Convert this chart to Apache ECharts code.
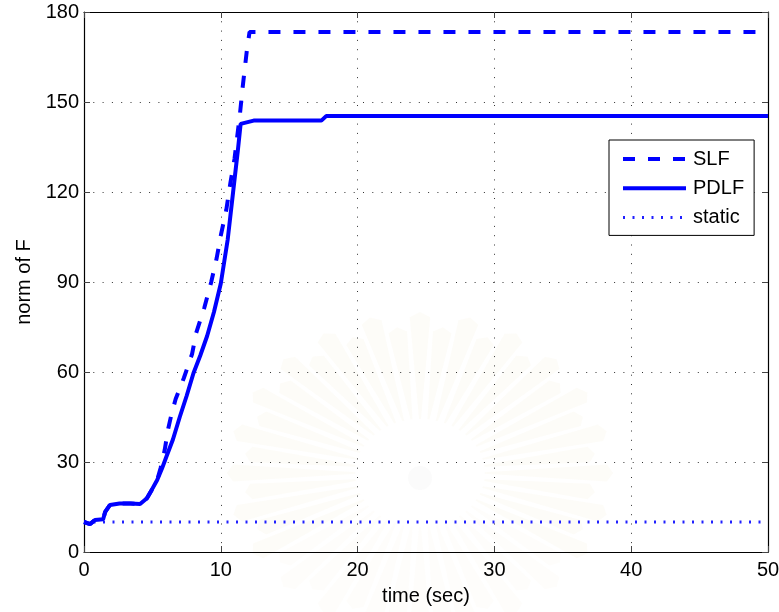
<!DOCTYPE html>
<html>
<head>
<meta charset="utf-8">
<script src="https://cdn.jsdelivr.net/npm/echarts@6/dist/echarts.min.js"></script>
<style>
  html, body { margin: 0; padding: 0; background: #fff; }
  #chart { width: 779px; height: 612px; }
</style>
</head>
<body>
<div id="chart"></div>
<script>
// Time samples (sec) and norm of the feedback gain for each design
const slfTime = [0, 0.45, 0.8, 1.4, 1.55, 1.9, 2.6, 3.4, 4.1, 4.6, 4.95, 5.35, 5.6, 5.9, 6.15, 6.4, 6.7, 7.0, 7.3, 7.9, 8.2, 8.8, 9.3, 9.7, 10.0, 10.4, 10.7, 11.0, 11.4, 11.6, 11.9, 12.1, 50];
const slfNorm = [10, 9.3, 10.7, 10.9, 13.4, 15.7, 16.2, 16.2, 16, 17.9, 20.7, 24, 28, 34, 41, 46, 51, 54.5, 58, 66, 73, 81.5, 90, 98, 105.5, 114, 123, 131, 146, 155, 167, 173.3, 173.3];

const pdlfTime = [0, 0.45, 0.8, 1.4, 1.55, 1.9, 2.6, 3.4, 4.1, 4.6, 4.95, 5.35, 5.7, 6.0, 6.5, 7.0, 7.5, 8.0, 8.5, 9.0, 9.5, 10.0, 10.5, 10.9, 11.25, 11.45, 12.4, 17.35, 17.7, 50];
const pdlfNorm = [10, 9.3, 10.7, 10.9, 13.4, 15.7, 16.2, 16.2, 16, 17.9, 20.7, 24, 27.8, 31.5, 37.5, 45, 52, 59.6, 65.5, 72, 80, 89.5, 104, 120, 134, 142.7, 143.8, 143.8, 145.3, 145.3];

const staticTime = [0, 50];
const staticNorm = [10, 10];

const seriesNames = ['SLF', 'PDLF', 'static'];
const xTicks = { min: 0, max: 50, interval: 10 };
const yTicks = { min: 0, max: 180, interval: 30 };

const FONT = '"Liberation Sans", Arial, Helvetica, sans-serif';
const BLUE = '#0000ff';

function pairs(t, v) { return t.map((x, i) => [x, v[i]]); }

// Faint sun-ray emblem sitting behind the plot
function emblem(cx, cy) {
  const els = [];
  const n = 48;
  for (let i = 0; i < n; i++) {
    const a = (i / n) * Math.PI * 2;
    const step = Math.PI * 2 / n;
    const r0 = 54;
    const r1 = (i % 2 === 0) ? 156 : 142;
    const sx = 1.2;
    const p = (r, ang) => [cx + sx * r * Math.cos(ang), cy + r * Math.sin(ang)];
    const pts = [
      p(r0, a - step * 0.12),
      p(r1, a - step * 0.42),
      p(r1 + 5, a),
      p(r1, a + step * 0.42),
      p(r0, a + step * 0.12)
    ];
    const lower = Math.sin(a) > 0.5 ? 0.6 : 1;
    els.push({
      type: 'polygon', silent: true, z: -10,
      shape: { points: pts },
      style: { fill: 'rgba(236,224,176,' + (0.09 * lower).toFixed(3) + ')' }
    });
  }
  els.push({
    type: 'circle', silent: true, z: -10,
    shape: { cx: cx, cy: cy + 5, r: 12 },
    style: { fill: 'rgba(200,200,200,0.07)' }
  });
  return els;
}

const chart = echarts.init(document.getElementById('chart'), null, { renderer: 'canvas' });

const gridLine = { show: true, lineStyle: { color: '#333', width: 1, type: [1, 8.3] } };
const boxLine = { show: true, onZero: false, lineStyle: { color: '#000', width: 1.2 } };
const tick = { show: true, inside: true, length: 6, lineStyle: { color: '#444', width: 1 } };

chart.setOption({
  animation: false,
  backgroundColor: '#fff',
  graphic: emblem(420, 473),
  grid: { left: 84, right: 11, top: 12, bottom: 60, containLabel: false, outerBoundsMode: 'none' },
  legend: {
    orient: 'vertical',
    left: 609, top: 140,
    data: seriesNames,
    backgroundColor: '#fff',
    borderColor: '#000', borderWidth: 1,
    padding: [9, 10, 8, 12],
    itemWidth: 63, itemHeight: 20, itemGap: 9.2,
    // line-only keys: the marker dot is made invisible
    itemStyle: { color: 'rgba(0,0,0,0)', borderWidth: 0, opacity: 0 },
    lineStyle: { width: 'inherit' },
    textStyle: { fontFamily: FONT, fontSize: 20, lineHeight: 20, color: '#000', padding: [0, 0, 0, 2] }
  },
  xAxis: [{
    type: 'value', ...xTicks,
    name: 'time (sec)', nameLocation: 'middle', nameGap: 34,
    nameTextStyle: { fontFamily: FONT, fontSize: 20, color: '#000' },
    axisLine: boxLine, axisTick: tick, splitLine: gridLine,
    axisLabel: { fontFamily: FONT, fontSize: 20, color: '#000', margin: 8 }
  }, {
    type: 'value', ...xTicks, position: 'top',
    axisLine: boxLine, axisTick: tick, splitLine: { show: false }, axisLabel: { show: false }
  }],
  yAxis: [{
    type: 'value', ...yTicks,
    name: 'norm of F', nameLocation: 'middle', nameGap: 49, nameRotate: 90,
    nameTextStyle: { fontFamily: FONT, fontSize: 20, color: '#000' },
    axisLine: boxLine, axisTick: tick, splitLine: gridLine,
    axisLabel: { fontFamily: FONT, fontSize: 20, color: '#000', margin: 5 }
  }, {
    type: 'value', ...yTicks, position: 'right',
    axisLine: boxLine, axisTick: tick, splitLine: { show: false }, axisLabel: { show: false }
  }],
  series: [{
    name: 'SLF', type: 'line', data: pairs(slfTime, slfNorm),
    symbol: 'none', showSymbol: false, z: 4,
    lineStyle: { color: BLUE, width: 4, type: [12, 13], cap: 'butt' },
    itemStyle: { color: BLUE }
  }, {
    name: 'PDLF', type: 'line', data: pairs(pdlfTime, pdlfNorm),
    symbol: 'none', showSymbol: false, z: 5,
    lineStyle: { color: BLUE, width: 4, type: 'solid' },
    itemStyle: { color: BLUE }
  }, {
    name: 'static', type: 'line', data: pairs(staticTime, staticNorm),
    symbol: 'none', showSymbol: false, z: 3,
    lineStyle: { color: '#2020ff', width: 3, type: [2, 7.5], cap: 'butt' },
    itemStyle: { color: '#2020ff' }
  }]
});
</script>
</body>
</html>
